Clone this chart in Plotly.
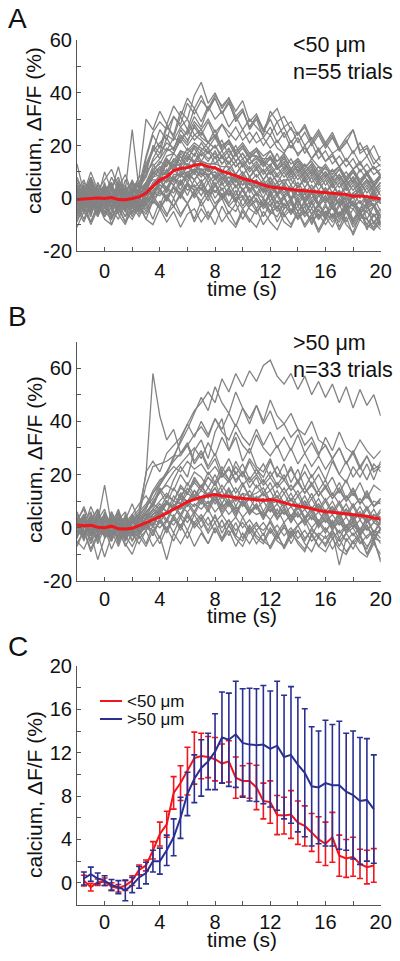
import plotly.graph_objects as go

# ---------------- time bases ----------------
T_TRIAL = [-2, -1.5, -1, -0.5, 0, 0.5, 1, 1.5, 2, 2.5, 3, 3.5, 4, 4.5, 5, 5.5, 6, 6.5, 7, 7.5,
           8, 8.5, 9, 9.5, 10, 10.5, 11, 11.5, 12, 12.5, 13, 13.5, 14, 14.5, 15, 15.5, 16, 16.5,
           17, 17.5, 18, 18.5, 19, 19.5, 20]
T_BIN = [-1.5, -1, -0.5, 0, 0.5, 1, 1.5, 2, 2.5, 3, 3.5, 4, 4.5, 5, 5.5, 6, 6.5, 7, 7.5, 8,
         8.5, 9, 9.5, 10, 10.5, 11, 11.5, 12, 12.5, 13, 13.5, 14, 14.5, 15, 15.5, 16, 16.5, 17,
         17.5, 18, 18.5, 19, 19.5]

# ---------------- panel A: <50 um single trials (dF/F %) ----------------
A01 = [4, -3, 5, -1, 3, -4, 6, -2, 3, 8, 30, 26, 33, 28, 35, 31, 38, 34, 39, 33, 38, 32, 36, 30, 33, 27, 31, 25, 30, 24, 27, 21, 25, 20, 23, 18, 21, 17, 19, 14, 18, 13, 16, 11, 13]
A02 = [-2, 5, -4, 3, -1, 4, -3, 2, 0, 4, 9, 20, 17, 27, 24, 33, 30, 39, 44, 36, 40, 34, 38, 33, 37, 29, 32, 26, 31, 34, 27, 29, 24, 28, 22, 26, 21, 25, 19, 23, 26, 18, 20, 15, 12]
A03 = [3, -5, 2, -2, 6, -3, 1, -4, 4, 1, 12, 18, 26, 22, 31, 28, 36, 32, 37, 34, 39, 35, 38, 31, 34, 26, 30, 23, 27, 21, 25, 19, 23, 17, 21, 15, 18, 13, 16, 12, 15, 10, 13, 9, 11]
A04 = [-4, 2, 7, -2, 4, -5, 3, -1, 6, 2, 15, 24, 19, 28, 23, 31, 26, 34, 29, 35, 30, 33, 27, 31, 26, 30, 27, 24, 33, 29, 31, 26, 24, 27, 21, 25, 20, 24, 18, 21, 26, 17, 19, 13, 16]
A05 = [1, -3, 4, -6, 2, 5, -2, 3, 26, 3, 13, 19, 15, 23, 18, 26, 22, 27, 23, 21, 26, 19, 22, 17, 20, 15, 18, 14, 12, 17, 11, 15, 10, 13, 9, 12, 8, 11, 7, 10, 6, 11, 7, 5, 8]
A06 = [2, -1, 3, 0, -3, 1, 4, -2, 3, 5, 16, 25, 29, 26, 31, 27, 30, 24, 26, 21, 24, 19, 22, 17, 20, 16, 19, 14, 18, 12, 16, 11, 14, 10, 13, 8, 12, 7, 11, 6, 10, 5, 9, 4, 8]
A07 = [3, -1, 5, -3, 1, 6, -2, 2, -1, 4, 3, 10, 11, 16, 17, 23, 25, 31, 27, 34, 38, 32, 37, 29, 33, 27, 31, 26, 24, 29, 23, 27, 21, 25, 20, 24, 19, 23, 18, 22, 17, 21, 16, 20, 14]
A08 = [-3, 4, -1, -4, 3, 6, -2, -5, 2, 3, 2, 9, 10, 15, 12, 18, 15, 19, 14, 18, 13, 16, 11, 14, 9, 12, 8, 11, 6, 9, 5, 10, 4, 8, 3, 7, 2, 6, 1, 5, 0, 4, -1, 3, -2]
A09 = [1, -6, 3, 0, -3, 5, -1, 4, -4, 2, 1, 6, 8, 13, 14, 18, 17, 20, 18, 21, 19, 22, 16, 20, 15, 17, 16, 13, 16, 11, 14, 10, 13, 9, 12, 7, 10, 6, 9, 5, 8, 4, 7, 3, 6]
A10 = [4, -1, 6, -2, -5, 2, 3, -3, 1, -4, 3, 5, 9, 9, 13, 10, 15, 14, 14, 13, 13, 12, 12, 9, 13, 8, 11, 7, 10, 6, 7, 7, 4, 7, 3, 6, 2, 5, 1, 4, 0, 3, -1, 2, -2]
A11 = [-6, 0, 3, -4, 2, -3, 4, -5, 0, 2, -1, 5, 6, 8, 7, 10, 8, 11, 9, 11, 8, 10, 6, 9, 5, 8, 4, 7, 3, 6, 2, 5, 1, 4, 0, 3, -1, 2, -2, 1, -3, 2, -1, -3, 0]
A12 = [3, 7, -1, -3, 5, 0, -4, 3, 6, -1, 4, 1, 6, 8, 5, 9, 6, 10, 6, 9, 5, 8, 4, 7, 3, 6, 2, 5, 1, 4, 0, 3, -1, 2, -2, 1, -2, 2, -3, 1, -2, -4, 1, -3, 0]
A13 = [-2, 4, -5, 1, 3, -4, 2, 5, -3, 3, -2, 2, 4, -1, 5, 1, 6, 0, 4, -1, 5, 0, 3, -2, 4, -1, 2, -3, 3, -2, 1, 4, -3, 2, -4, 1, 3, -2, 2, -4, 1, 3, -3, 2, -2]
A14 = [-7, -1, -6, 0, -5, -8, -2, 1, -6, -1, -5, 0, -4, 1, -3, 2, -2, 3, -3, 1, -4, 2, -3, -5, 0, -4, -6, -1, -5, -7, -2, -6, -1, -5, -8, -2, -6, -1, -7, -3, -4, -8, -4, -2, -7]
A15 = [-8, -2, -9, -3, -7, -1, -6, -10, -3, -7, -2, -8, -1, -6, -3, -7, -2, -9, -4, -8, -3, -9, -5, -10, -4, -8, -11, -5, -9, -12, -6, -10, -5, -11, -7, -13, -8, -6, -12, -7, -14, -8, -11, -9, -12]
A16 = [-11, -5, -9, -2, -8, -10, -4, -9, -5, -3, -8, -10, -4, -9, -5, -11, -6, -4, -9, -5, -10, -3, -8, -11, -5, -9, -4, -10, -6, -3, -9, -11, -5, -10, -6, -12, -7, -11, -5, -10, -13, -6, -10, -12, -7]
A17 = [8, 2, 10, 3, 7, 11, 4, 9, 2, 8, 10, 13, 9, 15, 10, 16, 12, 17, 13, 11, 16, 10, 14, 9, 13, 8, 12, 7, 11, 6, 10, 5, 9, 4, 8, 3, 7, 2, 6, 1, 5, 0, 4, -1, 3]
A18 = [-2, -8, -1, -6, 0, -7, -3, -9, -1, -6, -2, 1, -3, 4, 0, 6, 1, 7, 3, 8, 2, 6, 1, 5, 0, 4, -1, -3, 2, -4, 1, -5, 0, -6, -1, -7, -2, -8, -3, -1, -9, -4, -2, -10, -5]
A19 = [2, 5, -3, 4, -1, 0, 6, 1, -4, 4, 5, 11, 13, 18, 19, 24, 21, 28, 24, 29, 23, 28, 25, 22, 26, 21, 25, 20, 24, 19, 17, 22, 16, 20, 15, 19, 14, 17, 12, 15, 11, 14, 9, 12, 8]
A20 = [5, -1, 7, 1, -2, 4, 8, 0, 5, 1, 6, 0, 7, 2, 8, 3, 9, 4, 7, 2, 8, 3, 6, 1, 7, 2, 5, 0, 6, 1, 4, -1, 5, 0, 3, -2, 4, -1, 3, -3, 2, 4, -2, 1, 0]
A21 = [-3, 2, -5, 3, -2, -6, 1, 4, -4, 0, 3, 8, 9, 10, 12, 13, 13, 12, 11, 11, 8, 9, 5, 8, 3, 6, 1, 4, -1, 2, -3, 0, -5, -1, -6, -2, -7, -3, -8, -4, -9, -5, -10, -6, -11]
A22 = [1, -5, 3, -7, 0, -4, -8, -1, 2, -5, -1, 2, 1, 4, 2, 7, 3, 5, 1, 6, 0, 4, -2, 3, -3, 1, -4, 0, -5, -1, -6, -2, -7, -3, -1, -8, -3, -7, -2, -9, -4, -1, -8, -3, -10]
A23 = [-1, 3, -4, 2, 5, -3, 1, -5, 3, -3, 2, 2, 6, 7, 8, 9, 13, 10, 14, 13, 13, 16, 13, 17, 12, 16, 16, 15, 15, 14, 16, 11, 15, 11, 15, 12, 11, 10, 12, 7, 11, 6, 10, 5, 9]
A24 = [-9, -3, -10, -4, -1, -8, -2, -7, 0, -5, 1, 2, 7, 4, 9, 9, 10, 11, 11, 9, 10, 8, 8, 7, 8, 5, 6, 3, 6, 2, 5, 0, 3, -1, 2, -3, 1, -4, 0, -3, 1, -6, -2, 0, -5]
A25 = [-4, -9, -2, -7, -1, -10, -3, 0, -7, -2, -8, -1, -3, -7, 0, -6, -2, -8, -1, -7, -3, 0, -6, -2, -8, -3, -1, -7, -2, -9, -4, -1, -8, -3, -10, -4, -8, -3, -11, -5, -9, -4, -12, -6, -10]
A26 = [13, 2, 8, 0, 10, 3, 12, 1, 7, 0, 5, 7, 7, 11, 6, 13, 8, 14, 9, 9, 10, 6, 10, 4, 9, 3, 7, 2, 8, 1, 6, 0, 5, -1, 4, -2, 3, -3, 2, -4, 1, 3, -2, 2, -1]
A27 = [6, 0, 4, -3, 5, 1, -2, 7, 2, 5, 3, 8, 11, 9, 14, 12, 16, 13, 17, 14, 18, 13, 16, 12, 15, 11, 14, 10, 13, 9, 12, 8, 11, 7, 10, 6, 9, 5, 8, 4, 7, 3, 6, 2, 5]
A28 = [-5, 1, -3, 4, -6, -1, 3, -4, 0, -2, 1, 4, 3, 7, 5, 9, 7, 11, 8, 12, 7, 10, 6, 9, 5, 8, 4, 6, 2, 5, 1, 4, 0, 3, -1, 2, -1, 1, -2, 0, -3, -1, -4, 0, -2]
A29 = [0, 6, 2, -4, 1, 5, -3, 3, -1, 2, 4, 10, 8, 14, 11, 17, 14, 20, 16, 19, 15, 18, 13, 17, 12, 15, 11, 14, 9, 12, 8, 11, 7, 10, 6, 9, 5, 8, 4, 7, 3, 6, 2, 5, 1]
A30 = [-4, -1, -7, 2, -3, 0, -6, 1, -2, -5, 0, -2, 3, -1, 4, 0, 5, 1, 6, 1, 5, 0, 4, -1, 3, -2, 2, -3, 1, -4, 0, -5, -1, -6, -2, -5, -7, -3, -6, -2, -8, -4, -5, -9, -6]
A31 = [7, 2, -1, 5, 1, 8, 3, -2, 4, 6, 9, 14, 17, 21, 19, 23, 20, 24, 22, 19, 23, 18, 21, 16, 19, 15, 18, 13, 16, 12, 15, 11, 14, 10, 13, 9, 12, 8, 11, 7, 10, 6, 9, 5, 8]
A32 = [-1, -5, 2, -2, -6, 0, -3, 2, -4, 0, -3, 1, 5, 3, 8, 5, 10, 7, 11, 8, 12, 7, 10, 6, 9, 5, 7, 3, 6, 2, 4, 0, 3, -1, 2, -3, 0, -4, -1, -5, -2, -6, -3, -7, -4]
A33 = [2, -2, 1, -5, 3, -1, 5, -3, 0, 3, 6, 12, 15, 19, 17, 22, 18, 21, 19, 17, 20, 15, 18, 14, 17, 13, 15, 12, 15, 11, 13, 10, 12, 8, 11, 7, 10, 6, 9, 5, 8, 4, 7, 3, 6]
A34 = [-6, -2, -4, 0, -7, -3, -1, -5, -8, -3, -6, -1, -4, 0, -3, 1, -2, 2, -1, 3, -2, 1, -3, 0, -4, -1, -5, -2, -6, -3, -7, -4, -8, -5, -9, -6, -10, -6, -9, -5, -11, -7, -8, -12, -9]
A35 = [0, 4, -2, 6, 1, -3, 5, -1, 3, 1, 5, 9, 12, 10, 15, 13, 17, 14, 18, 15, 17, 13, 16, 12, 14, 10, 13, 9, 12, 8, 11, 7, 10, 6, 9, 5, 8, 4, 7, 3, 6, 2, 5, 1, 4]
A36 = [-3, 1, -6, 2, -4, 3, -2, -7, 0, -3, 0, 3, 5, 4, 8, 6, 9, 7, 10, 6, 9, 5, 8, 4, 7, 3, 6, 2, 5, 1, 4, -1, 3, -2, 2, -3, 1, -4, 0, -5, -1, -6, -2, -3, -7]
A37 = [5, 1, 8, 2, 4, -1, 7, 3, 6, 4, 8, 15, 20, 18, 23, 21, 26, 22, 25, 21, 24, 20, 22, 18, 21, 17, 19, 16, 18, 14, 17, 13, 15, 12, 14, 10, 13, 9, 12, 8, 11, 7, 10, 6, 9]
A38 = [-1, 3, -3, 0, 4, -4, 2, -2, 1, -2, 2, 4, 8, 6, 11, 8, 12, 9, 13, 10, 12, 9, 11, 7, 10, 6, 9, 5, 8, 4, 7, 3, 6, 2, 5, 1, 4, 0, 3, -1, 2, -2, 1, -3, 0]
A39 = [2, -4, 0, 3, -2, 1, -5, 2, -1, 0, 6, 10, 14, 12, 17, 14, 19, 16, 21, 17, 20, 16, 19, 14, 17, 13, 16, 12, 15, 11, 13, 9, 12, 8, 11, 7, 10, 6, 9, 5, 8, 4, 7, 3, 6]
A40 = [-5, -1, -4, 1, -3, -6, 0, -2, -5, -1, -4, 0, 2, 1, 4, 2, 5, 3, 4, 1, 3, 0, 2, -1, 1, -3, 0, -4, -1, -5, -2, -6, -3, -7, -4, -8, -5, -9, -6, -3, -10, -6, -8, -11, -7]
A41 = [3, 0, 6, -2, 2, 5, -1, 4, 1, 6, 11, 18, 21, 24, 22, 27, 24, 29, 26, 30, 25, 28, 23, 27, 22, 25, 21, 23, 19, 22, 18, 20, 17, 19, 15, 18, 14, 16, 12, 15, 11, 13, 10, 12, 9]
A42 = [-2, 2, -1, -5, 1, -3, 3, -4, -1, -4, -1, 1, 3, 0, 4, 2, 6, 3, 5, 2, 6, 1, 4, 0, 3, -1, 2, 0, -3, 1, -4, -1, -5, -2, -6, -3, -6, -3, -7, -4, -2, -8, -5, -3, -9]
GRAY_A = [A01, A02, A03, A04, A05, A06, A07, A08, A09, A10, A11, A12, A13, A14, A15, A16, A17,
          A18, A19, A20, A21, A22, A23, A24, A25, A26, A27, A28, A29, A30, A31, A32, A33, A34,
          A35, A36, A37, A38, A39, A40, A41, A42]
MEAN_A = [-0.5, -0.3, -0.2, 0.1, -0.1, 0.3, -0.5, -0.6, -0.1, 0.5, 2.0, 4.5, 7.0, 8.2, 10.5, 11.3, 11.6, 12.5, 13.0, 12.0, 11.5, 10.3, 9.5, 8.6, 7.5, 6.8, 6.0, 5.0, 4.3, 4.0, 3.6, 3.2, 3.0, 2.8, 2.6, 2.3, 2.1, 1.8, 1.6, 1.4, 0.8, 0.9, 0.6, 0.2, -0.2]

# ---------------- panel B: >50 um single trials ----------------
B01 = [3, -4, 5, -1, -3, 6, 1, -2, 4, 7, 20, 58, 42, 33, 37, 28, 32, 25, 29, 23, 28, 21, 26, 20, 24, 18, 22, 17, 21, 16, 20, 14, 18, 13, 17, 12, 16, 11, 15, 10, 14, 9, 13, 8, 11]
B02 = [-2, 4, -1, -5, 3, 0, -3, 5, -1, 4, 21, 25, 21, 28, 31, 34, 39, 34, 40, 35, 41, 36, 33, 39, 34, 31, 37, 31, 36, 30, 34, 29, 35, 28, 32, 27, 34, 29, 36, 30, 28, 33, 29, 26, 29]
B03 = [1, 5, -3, 4, 0, -4, 3, 6, -2, 3, 7, 13, 16, 21, 26, 33, 39, 44, 47, 51, 47, 56, 51, 58, 53, 59, 55, 61, 63, 57, 54, 58, 52, 57, 50, 55, 49, 54, 47, 53, 45, 52, 46, 50, 42]
B04 = [4, -3, 2, 7, -4, 1, 5, -2, 3, 6, 9, 13, 17, 21, 25, 28, 31, 35, 38, 34, 41, 37, 43, 38, 45, 39, 46, 40, 48, 42, 39, 43, 37, 35, 40, 33, 31, 26, 30, 24, 29, 23, 27, 22, 24]
B05 = [-3, 2, 6, -2, 4, -4, 1, 3, -5, 2, 5, 10, 13, 17, 21, 24, 27, 30, 26, 32, 27, 34, 29, 36, 31, 28, 35, 30, 27, 31, 25, 30, 24, 28, 23, 27, 22, 26, 20, 25, 19, 23, 18, 24, 21]
B06 = [5, -1, -4, 3, 7, -2, 4, -3, 2, -1, 4, 7, 10, 13, 10, 16, 13, 19, 15, 21, 17, 23, 18, 25, 20, 26, 22, 19, 25, 20, 18, 23, 17, 21, 16, 20, 15, 19, 13, 18, 12, 17, 11, 16, 14]
B07 = [2, -5, 3, -2, 5, -1, -4, 4, -3, 3, 6, 9, 15, 11, 18, 23, 19, 29, 33, 26, 36, 41, 29, 34, 25, 30, 23, 21, 26, 19, 24, 17, 22, 15, 20, 14, 18, 12, 17, 11, 15, 9, 14, 8, 11]
B08 = [-4, 3, -1, 6, -3, 2, -6, 1, 4, -2, 3, 6, 9, 6, 12, 9, 15, 11, 16, 12, 17, 11, 15, 10, 16, 12, 13, 15, 10, 14, 9, 13, 8, 12, 7, 11, 6, 10, 5, 9, 4, 8, 3, 7, 2]
B09 = [3, 7, -2, 4, -1, -4, 5, 2, -3, 4, 0, 5, 6, 10, 7, 13, 9, 14, 10, 8, 13, 7, 11, 6, 10, 5, 9, 4, 8, 3, 7, 2, 6, 1, 5, 0, 4, -1, 3, -2, 2, -3, 1, -4, 0]
B10 = [-2, 4, -5, 2, -3, 5, -1, -4, 3, -2, 2, -3, 4, -1, 5, 0, 6, 1, 4, -1, 5, -2, 3, -3, 4, -1, 2, -3, 3, -2, 2, -4, 1, 3, -3, 2, -2, 3, -4, 1, 2, -3, 1, -5, 0]
B11 = [-6, -1, -8, -2, -11, -3, 0, -7, -2, -6, -1, -7, -3, -12, -2, -6, -1, -7, -2, -6, 0, -5, -1, -7, -2, -6, -1, -5, -7, -2, -8, -3, -1, -6, -9, -3, -7, -2, -14, -4, -8, -3, -10, -5, -12]
B12 = [4, -2, 3, 7, 0, -3, 6, -1, 5, 0, 4, 1, 7, 3, 9, 5, 10, 6, 11, 7, 12, 6, 10, 5, 11, 6, 9, 4, 10, 5, 8, 3, 9, 4, 7, 2, 6, 1, 5, 0, 4, -1, 3, -2, 2]
B13 = [6, 0, 8, 2, 16, 1, 7, -1, 5, 9, 12, 8, 14, 9, 15, 11, 17, 12, 16, 11, 15, 9, 14, 8, 13, 7, 12, 6, 11, 5, 10, 4, 9, 3, 8, 2, 7, 1, 6, 0, 5, -1, 4, -2, 3]
B14 = [1, -4, 3, -6, 0, -5, 2, -3, -7, -2, 1, -3, 3, -2, 4, -1, 5, 0, 3, -2, 2, -4, 1, -3, -5, 0, -4, -6, -1, -5, -7, -2, -5, -8, -3, -7, -9, -4, -8, -10, -5, -9, -11, -6, -10]
B15 = [-3, 3, -2, 5, -1, -5, 4, -2, 3, 0, 6, 8, 14, 16, 14, 20, 16, 21, 19, 15, 20, 14, 18, 13, 17, 11, 16, 12, 14, 9, 13, 8, 12, 7, 11, 6, 10, 5, 9, 4, 8, 3, 7, 2, 6]
B16 = [-5, -8, -2, -12, -4, -1, -7, 0, -5, -1, -6, 1, -4, 3, -2, 4, -1, 5, 0, 4, -2, 3, -3, 2, -4, 1, -3, -5, 0, -4, 1, -6, -1, -5, 0, -4, -6, -1, -7, -2, 0, -5, -8, -2, -6]
B17 = [2, -3, 4, -1, 0, 3, -4, 2, 5, 1, -1, 4, 5, 10, 7, 13, 13, 17, 14, 19, 16, 21, 18, 23, 19, 25, 20, 24, 19, 23, 18, 22, 17, 24, 19, 23, 18, 25, 20, 17, 23, 19, 24, 18, 25]
B18 = [1, 4, -3, 2, 5, -2, 3, -4, 2, 5, 16, 23, 24, 25, 27, 27, 31, 24, 28, 22, 26, 19, 23, 17, 21, 15, 19, 13, 17, 11, 15, 10, 14, 8, 13, 7, 11, 6, 10, 5, 9, 4, 8, 3, 7]
B19 = [-2, 5, 0, -3, 6, 1, -2, 4, -1, 3, 5, 0, 6, 2, 8, 4, 9, 5, 10, 6, 11, 5, 9, 4, 10, 5, 8, 3, 9, 4, 7, 2, 8, 3, 6, 1, 5, 0, 4, -1, 3, -2, 2, 4, -1]
B20 = [-7, -1, -9, -3, 0, -8, -2, -6, -10, -3, -7, -1, -6, 0, -5, 1, -4, 2, -1, -6, 0, -5, 1, -4, -7, -1, -6, -2, -8, -3, -7, -1, -6, -9, -2, -7, -3, -8, -4, -9, -5, -2, -10, -4, -13]
B21 = [3, -2, 5, 0, -3, 4, -1, -4, 3, 5, 8, 11, 16, 20, 27, 32, 37, 43, 49, 44, 53, 47, 43, 51, 45, 41, 46, 39, 44, 37, 39, 34, 37, 31, 34, 28, 31, 26, 30, 24, 28, 22, 27, 21, 23]
B22 = [0, 3, -3, 1, -1, 4, -2, 0, 2, 1, 3, 5, 7, 9, 8, 11, 10, 12, 10, 13, 9, 12, 8, 11, 9, 12, 10, 11, 9, 10, 8, 11, 7, 9, 6, 8, 5, 7, 4, 6, 3, 5, 2, 4, 1]
B23 = [-1, -4, 1, -2, 3, -3, 0, -5, 1, -2, 0, 3, 2, 6, 4, 8, 6, 9, 7, 10, 6, 9, 5, 8, 4, 7, 5, 6, 3, 7, 2, 5, 1, 4, 0, 3, -1, 2, -2, 1, -3, 0, -4, -1, -2]
B24 = [2, 8, 1, 4, -2, 6, 0, 3, 9, 2, 5, 3, 7, 10, 8, 12, 10, 14, 11, 15, 12, 16, 12, 15, 11, 14, 10, 13, 9, 12, 8, 11, 7, 10, 6, 9, 5, 8, 4, 7, 3, 6, 2, 5, 4]
B25 = [-3, 1, -6, 0, -2, 2, -5, 1, -1, -4, -1, 2, 0, 3, 1, 5, 2, 6, 3, 7, 2, 5, 1, 4, 0, 3, -1, 2, -2, 1, -3, 0, -4, -1, -5, -2, -4, -1, -5, -2, -6, -3, -7, -4, -5]
B26 = [1, -2, 2, 5, -1, 3, 0, -3, 4, 0, 4, 9, 7, 12, 10, 15, 13, 18, 15, 19, 16, 20, 17, 21, 16, 19, 15, 18, 14, 17, 13, 16, 12, 15, 11, 14, 10, 13, 9, 12, 8, 11, 7, 10, 9]
B27 = [0, -4, 3, -1, 2, -5, 1, 4, -2, 2, 1, 5, 8, 6, 10, 9, 13, 11, 14, 12, 15, 11, 14, 10, 13, 12, 11, 13, 10, 12, 8, 11, 7, 10, 6, 9, 5, 8, 4, 7, 3, 6, 2, 5, 3]
B28 = [4, 1, -2, 3, -3, 2, 6, 0, -1, 5, 3, 7, 5, 9, 7, 11, 8, 12, 9, 13, 10, 14, 9, 12, 8, 11, 7, 10, 6, 9, 5, 8, 4, 7, 3, 6, 2, 5, 1, 4, 0, 3, -1, 2, 0]
B29 = [-2, 2, -1, -4, 1, -2, 3, -5, 0, -3, 1, -1, 2, 0, 3, 1, 4, 2, 5, 1, 4, 0, 3, -1, 2, -2, 1, -1, 2, -3, 0, -2, 1, -4, -1, -3, 0, -4, -1, -5, -2, -6, -3, -1, -4]
B30 = [1, 5, -1, 2, -3, 0, 3, -2, 2, 4, 8, 14, 18, 20, 23, 21, 25, 22, 24, 20, 23, 19, 22, 18, 21, 17, 20, 16, 19, 15, 18, 14, 17, 13, 16, 12, 15, 11, 14, 10, 13, 9, 12, 8, 10]
B31 = [-3, 0, 2, -2, 1, -4, 0, 2, -3, 0, 2, 4, 6, 5, 8, 7, 10, 8, 11, 9, 12, 8, 10, 7, 9, 6, 8, 5, 7, 4, 6, 3, 5, 2, 4, 1, 3, 0, 2, -1, 1, -2, 0, -3, -1]
GRAY_B = [B01, B02, B03, B04, B05, B06, B07, B08, B09, B10, B11, B12, B13, B14, B15, B16,
          B17, B18, B19, B20, B21, B22, B23, B24, B25, B26, B27, B28, B29, B30, B31]
MEAN_B = [1.0, 0.8, 0.9, 0.2, 0.0, 0.6, -0.4, -0.5, -0.2, 0.8, 1.8, 3.0, 4.2, 5.5, 7.0, 8.3, 9.8, 10.8, 11.5, 12.0, 12.5, 12.0, 11.8, 11.3, 11.0, 10.6, 10.5, 10.3, 10.6, 10.2, 9.3, 8.6, 8.2, 7.8, 7.2, 6.5, 6.0, 5.8, 5.5, 5.0, 4.8, 4.5, 4.3, 3.7, 3.3]

# ---------------- panel C: binned means +/- error ----------------
NEAR_MEAN = [0.2, -0.4, 0.05, 0.1, -0.35, -0.5, -0.25, 0.2, 1.2, 1.6, 3.0, 4.5, 5.4, 8.3, 9.2, 10.3, 11.5, 11.7, 11.6, 11.4, 11.0, 11.2, 9.7, 9.4, 9.4, 8.8, 7.55, 7.45, 6.25, 6.2, 6.3, 5.55, 5.25, 4.65, 4.0, 3.6, 4.2, 2.5, 2.25, 2.4, 1.75, 1.45, 1.6]
NEAR_ERR = [0.5, 0.35, 0.3, 0.35, 0.35, 0.35, 0.45, 0.45, 0.45, 0.5, 0.8, 1.1, 1.2, 1.5, 1.6, 2.2, 2.4, 2.1, 1.9, 2.0, 1.8, 1.9, 1.9, 1.4, 1.6, 2.05, 1.65, 1.95, 1.8, 1.7, 2.2, 2.0, 1.85, 1.75, 2.1, 2.0, 2.3, 1.9, 1.75, 1.8, 1.35, 1.55, 1.55]
FAR_MEAN = [0.4, 0.8, 0.4, 0.2, -0.2, -0.4, -0.7, -0.2, 0.5, 0.9, 2.0, 2.0, 3.0, 4.2, 6.0, 8.2, 9.6, 10.6, 11.2, 12.1, 13.4, 13.2, 13.7, 12.9, 12.75, 12.7, 12.75, 12.35, 12.65, 11.6, 11.8, 10.9, 10.15, 8.9, 8.8, 9.2, 9.0, 9.0, 8.4, 8.1, 7.55, 7.65, 6.8]
FAR_ERR = [0.6, 0.65, 0.5, 0.45, 0.5, 0.6, 0.95, 0.7, 1.0, 1.0, 1.0, 1.2, 1.4, 1.7, 1.9, 2.0, 2.2, 2.6, 2.6, 3.5, 4.2, 4.3, 4.9, 5.0, 5.2, 5.2, 5.45, 5.35, 5.95, 5.7, 6.3, 6.2, 5.9, 5.5, 5.2, 5.8, 5.6, 5.9, 5.4, 5.9, 5.85, 5.65, 5.0]

# ---------------- tick labels ----------------
X_TICKS = [0, 2, 4, 6, 8, 10, 12, 14, 16, 18, 20]
X_TEXT = ["0", "", "4", "", "8", "", "12", "", "16", "", "20"]
YA_TICKS = [-20, -10, 0, 10, 20, 30, 40, 50, 60]
YA_TEXT = ["-20", "", "0", "", "20", "", "40", "", "60"]
YB_TICKS = [-20, -10, 0, 10, 20, 30, 40, 50, 60, 70]
YB_TEXT = ["-20", "", "0", "", "20", "", "40", "", "60", ""]
YC_TICKS = [-2, 0, 2, 4, 6, 8, 10, 12, 14, 16, 18, 20]
YC_TEXT = ["", "0", "", "4", "", "8", "", "12", "", "16", "", "20"]

GRAY = "#838383"
RED = "#f0161e"
BLUE = "#2a2f92"
FONT = "Liberation Sans, Arial, sans-serif"
W, H = 400, 961

fig = go.Figure()
for tr in GRAY_A:
    fig.add_trace(go.Scatter(x=T_TRIAL, y=tr, mode="lines", line=dict(color=GRAY, width=1.3),
                             xaxis="x", yaxis="y", showlegend=False, hoverinfo="skip"))
fig.add_trace(go.Scatter(x=T_TRIAL, y=MEAN_A, mode="lines", line=dict(color=RED, width=3),
                         xaxis="x", yaxis="y", showlegend=False))
for tr in GRAY_B:
    fig.add_trace(go.Scatter(x=T_TRIAL, y=tr, mode="lines", line=dict(color=GRAY, width=1.3),
                             xaxis="x2", yaxis="y2", showlegend=False, hoverinfo="skip"))
fig.add_trace(go.Scatter(x=T_TRIAL, y=MEAN_B, mode="lines", line=dict(color=RED, width=3),
                         xaxis="x2", yaxis="y2", showlegend=False))
fig.add_trace(go.Scatter(x=T_BIN, y=NEAR_MEAN, mode="lines", line=dict(color=RED, width=2),
                         error_y=dict(type="data", array=NEAR_ERR, visible=True, color=RED,
                                      thickness=1.6, width=3),
                         xaxis="x3", yaxis="y3", showlegend=False))
fig.add_trace(go.Scatter(x=T_BIN, y=FAR_MEAN, mode="lines", line=dict(color=BLUE, width=2),
                         error_y=dict(type="data", array=FAR_ERR, visible=True, color=BLUE,
                                      thickness=1.6, width=3),
                         xaxis="x3", yaxis="y3", showlegend=False))

XDOM = [77 / W, 380.7 / W]


def ydom(top_px, bot_px):
    return [1 - bot_px / H, 1 - top_px / H]


axis_common = dict(showline=True, linecolor="#555555", linewidth=1, ticks="inside", ticklen=4,
                   tickcolor="#555555", showgrid=False, zeroline=False, mirror=False,
                   automargin=False,
                   tickfont=dict(family=FONT, size=20, color="#111111"), fixedrange=True)

fig.update_layout(
    width=W, height=H, margin=dict(l=0, r=0, t=0, b=0, pad=0, autoexpand=False),
    paper_bgcolor="white", plot_bgcolor="white",
    xaxis=dict(domain=XDOM, range=[-2, 20], anchor="y", tickvals=X_TICKS, ticktext=X_TEXT,
               ticklabelstandoff=2, **axis_common),
    yaxis=dict(domain=ydom(40, 251), range=[-20, 60], anchor="x", tickvals=YA_TICKS, ticktext=YA_TEXT, **axis_common),
    xaxis2=dict(domain=XDOM, range=[-2, 20], anchor="y2", tickvals=X_TICKS, ticktext=X_TEXT,
                ticklabelstandoff=0, **axis_common),
    yaxis2=dict(domain=ydom(341.5, 581), range=[-20, 70], anchor="x2", tickvals=YB_TICKS, ticktext=YB_TEXT, **axis_common),
    xaxis3=dict(domain=XDOM, range=[-2, 20], anchor="y3", tickvals=X_TICKS, ticktext=X_TEXT,
                ticklabelstandoff=-1, **axis_common),
    yaxis3=dict(domain=ydom(666, 904.5), range=[-2, 20], anchor="x3", tickvals=YC_TICKS, ticktext=YC_TEXT, **axis_common),
    font=dict(family=FONT, color="#111111"),
)


def ann(text, xpx, ypx, size, xanchor="center", angle=0):
    fig.add_annotation(text=text, x=xpx / W, y=1 - ypx / H, xref="paper", yref="paper",
                       xanchor=xanchor, yanchor="middle", showarrow=False, textangle=angle,
                       font=dict(family=FONT, size=size, color="#111111"))


# panel letters
ann("A", 17.5, 18, 28)
ann("B", 17.5, 316, 28)
ann("C", 17.5, 646, 28)
# y titles
ytitle = "calcium, \u0394F/F (%)"
ann(ytitle, 34, 131, 21, angle=-90)
ann(ytitle, 34, 460, 21, angle=-90)
ann(ytitle, 34, 795, 21, angle=-90)
# x titles
ann("time (s)", 241.5, 288, 21)
ann("time (s)", 241.5, 615, 21)
ann("time (s)", 241.5, 939, 21)
# in-panel labels
ann("&lt;50 \u03bcm", 291, 45, 21.5, xanchor="left")
ann("n=55 trials", 291, 72, 21.5, xanchor="left")
ann("&gt;50 \u03bcm", 291, 343, 21.5, xanchor="left")
ann("n=33 trials", 291, 370, 21.5, xanchor="left")
# legend for panel C
for lab, col, ypx in [("&lt;50 \u03bcm", RED, 701), ("&gt;50 \u03bcm", BLUE, 719)]:
    fig.add_shape(type="line", xref="paper", yref="paper", x0=100 / W, x1=122 / W,
                  y0=1 - ypx / H, y1=1 - ypx / H, line=dict(color=col, width=2))
    ann(lab, 125, ypx, 17, xanchor="left")

fig.write_html("out.html", post_script="document.body.style.margin='0';",
               config={"displayModeBar": False})
